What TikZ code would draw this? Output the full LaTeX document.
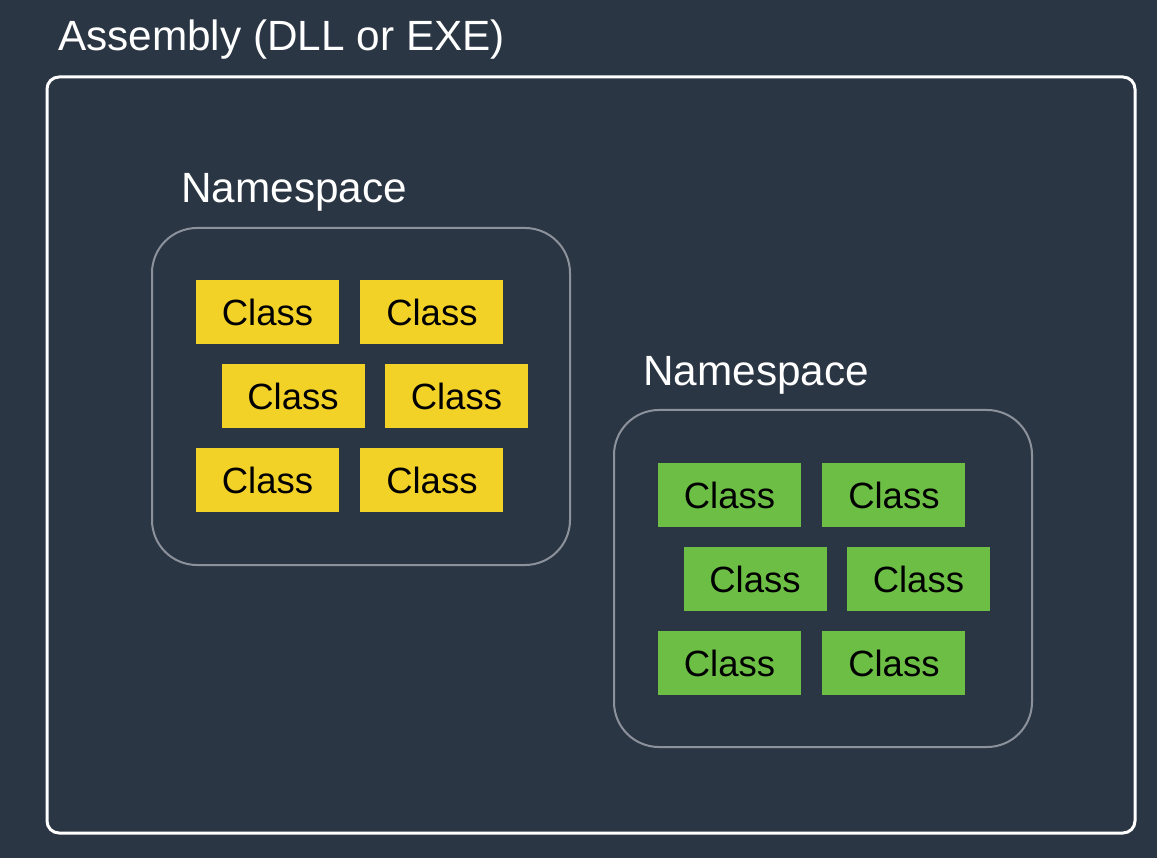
\documentclass[tikz,border=0pt]{standalone}
\usepackage{fontspec}
\setmainfont{Liberation Sans}
\usetikzlibrary{positioning}

\definecolor{bgnavy}{RGB}{43,54,68}
\definecolor{nsgray}{RGB}{140,146,156}
\definecolor{classyellow}{RGB}{243,210,40}
\definecolor{classgreen}{RGB}{108,190,69}

\begin{document}
\begin{tikzpicture}[x=1pt,y=-1pt,
    asm box/.style={draw=white,line width=3pt,rounded corners=12pt,minimum width=1088pt,minimum height=756pt},
    ns box/.style={draw=nsgray,line width=2pt,rounded corners=45pt,minimum width=418pt,minimum height=337pt},
    big label/.style={text=white,font=\fontsize{42.3}{50}\selectfont,inner sep=0pt},
    class node/.style={minimum width=143pt,minimum height=64pt,inner sep=0pt,text=black,font=\fontsize{36.5}{42}\selectfont},
    yclass/.style={class node,fill=classyellow},
    gclass/.style={class node,fill=classgreen}]

            \fill[bgnavy] (0,0) rectangle (1157,858);
            \useasboundingbox (0,0) rectangle (1157,858);

            % assembly
            \node[asm box] (asm) at (591,455) {};
            \node[big label,anchor=base west] (asmlabel) at (58,51) {Assembly (DLL or EXE)};

            % first namespace
            \node[ns box] (ns1) at (361,396.5) {};
            \node[big label,anchor=base west] (ns1label) at (181,203) {Namespace};

            \node[yclass] (y1) at (267.5,312) {Class};
            \node[yclass] (y2) [right=21pt of y1] {Class};
            \node[yclass] (y3) at (293,396) {Class};
            \node[yclass] (y4) [right=20pt of y3] {Class};
            \node[yclass] (y5) at (267.5,480) {Class};
            \node[yclass] (y6) [right=21pt of y5] {Class};

            % second namespace
            \node[ns box] (ns2) at (823,578.5) {};
            \node[big label,anchor=base west] (ns2label) at (643,386) {Namespace};

            \node[gclass] (g1) at (729.5,495) {Class};
            \node[gclass] (g2) [right=21pt of g1] {Class};
            \node[gclass] (g3) at (755,579) {Class};
            \node[gclass] (g4) [right=20pt of g3] {Class};
            \node[gclass] (g5) at (729.5,663) {Class};
            \node[gclass] (g6) [right=21pt of g5] {Class};

        \end{tikzpicture}
\end{document}
